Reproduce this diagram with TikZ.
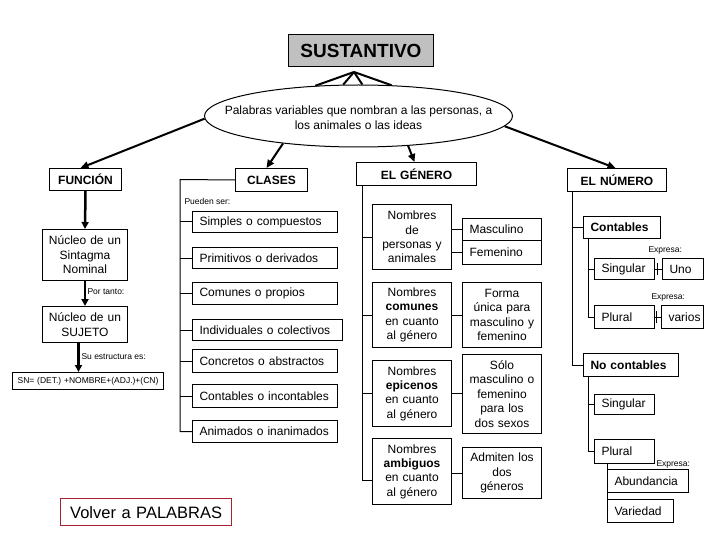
\documentclass[tikz,border=0pt]{standalone}
\usepackage{fontspec}
\setmainfont{Liberation Sans}
\usetikzlibrary{arrows.meta,shapes.geometric,calc}
\definecolor{sgray}{RGB}{192,192,192}
\definecolor{vred}{RGB}{165,35,45}
\begin{document}
\begin{tikzpicture}[x=1pt,y=-1pt,line width=1pt,
  bx/.style={draw,line width=1pt,anchor=north west,inner sep=0pt,font=\fontsize{12}{14.4}\selectfont},
  lb/.style={bx,align=left,inner xsep=7pt},
  cb/.style={bx,align=center},
  hd/.style={bx,align=center,font=\bfseries\fontsize{12}{14}\selectfont},
  small/.style={font=\fontsize{8.5}{10}\selectfont,inner sep=0pt,anchor=west},
  arr/.style={line width=2pt,-{Triangle[length=8pt,width=7pt]}},
  arrb/.style={line width=2.5pt,-{Triangle[length=7pt,width=7pt]}},
  fan/.style={line width=2pt}]
\useasboundingbox (0,0) rectangle (720,540);

% top
\node[hd,fill=sgray,text width=145pt,minimum height=32pt,font=\bfseries\fontsize{19}{22}\selectfont] (sus) at (288,34) {SUSTANTIVO};
\node[ellipse,draw,line width=1pt,minimum width=308pt,minimum height=62pt,inner sep=0pt] (ell) at (358.5,116) {};
\node[align=center,font=\fontsize{12}{15}\selectfont,inner sep=0pt] (elltxt) at (358.5,117.5) {Palabras variables que nombran a las personas, a\\los animales o las ideas};
\coordinate (apex) at (354,72);
\draw[fan] (apex) -- (ell.145.7);
\draw[fan] (apex) -- (ell.116.8);
\draw[fan] (apex) -- (ell.83.6);
\draw[fan] (apex) -- (ell.43.9);

% headers
\node[hd,text width=72pt,minimum height=22pt] (func) at (49,168) {FUNCIÓN};
\node[hd,text width=72pt,minimum height=23pt] (clases) at (235,168) {CLASES};
\node[hd,text width=120pt,minimum height=23pt] (gen) at (356,162) {EL GÉNERO};
\node[hd,text width=99pt,minimum height=23pt] (num) at (567,168) {EL NÚMERO};

\draw[arr] (ell.181.5) -- ([xshift=-5pt]func.north);
\draw[arr] (ell.200.7) -- ([xshift=-5pt]clases.north);
\draw[arr] (ell.329.3) -- ([xshift=-2pt]gen.north);
\draw[arr] (ell.356.8) -- ([xshift=-1.5pt]num.north);

% FUNCION
\node[cb,text width=85pt,minimum height=51pt] (nuc1) at (42,229) {Núcleo de un\\Sintagma\\Nominal};
\node[cb,text width=85pt,minimum height=36pt] (nuc2) at (42,306) {Núcleo de un\\SUJETO};
\node[cb,text width=151pt,minimum height=17pt,font=\fontsize{8.5}{10}\selectfont] (sn) at (12,372) {SN= (DET.) +NOMBRE+(ADJ.)+(CN)};
\draw[arrb] (func.south) -- (nuc1.north);
\draw[arrb] (nuc1.south) -- (nuc2.north);
\draw[arrb] ([xshift=-6.5pt]nuc2.south) -- ([xshift=-6.5pt]nuc2.south |- sn.north);
\node[small] (portanto) at (87,292) {Por tanto:};
\node[small] (suest) at (81,357) {Su estructura es:};

% CLASES
\node[small] (pueden) at (184,201) {Pueden ser:};
\node[lb,text width=131pt,minimum height=21pt] (simp) at (192,211) {Simples o compuestos};
\node[lb,text width=131pt,minimum height=21pt] (prim) at (192,247) {Primitivos o derivados};
\node[lb,text width=131pt,minimum height=22pt] (comu) at (192,282) {Comunes o propios};
\node[lb,text width=136pt,minimum height=21pt] (indi) at (192,319) {Individuales o colectivos};
\node[lb,text width=131pt,minimum height=23pt] (conc) at (192,349) {Concretos o abstractos};
\node[lb,text width=131pt,minimum height=23pt] (cont) at (192,384) {Contables o incontables};
\node[lb,text width=131pt,minimum height=22pt] (anim) at (192,420) {Animados o inanimados};
\coordinate (cv) at (180,179.5);
\draw (clases.west) -- (cv) |- (anim.west);
\foreach \n in {simp,prim,comu,indi,conc,cont} \draw (\n.west) -- (\n.west -| cv);

% GENERO
\node[cb,text width=79pt,minimum height=65pt] (pers) at (372,204) {Nombres\\de\\personas y\\animales};
\node[lb,text width=65pt,minimum height=22pt] (masc) at (462,218) {Masculino};
\node[lb,text width=65pt,minimum height=24pt] (fem) at (462,240) {Femenino};
\node[cb,text width=79pt,minimum height=65pt] (com) at (372,282) {Nombres\\\textbf{comunes}\\en cuanto\\al género};
\node[cb,text width=79pt,minimum height=65pt] (forma) at (462,282) {Forma\\única para\\masculino y\\femenino};
\node[cb,text width=79pt,minimum height=66pt] (epi) at (372,360) {Nombres\\\textbf{epicenos}\\en cuanto\\al género};
\node[cb,text width=79pt,minimum height=79pt] (solo) at (462,354) {Sólo\\masculino o\\femenino\\para los\\dos sexos};
\node[cb,text width=79pt,minimum height=66pt] (amb) at (372,438) {Nombres\\\textbf{ambiguos}\\en cuanto\\al género};
\node[cb,text width=79pt,minimum height=51pt] (adm) at (462,447) {Admiten los\\dos\\géneros};
\coordinate (gv) at ([xshift=6pt]gen.south west);
\coordinate (gend) at (362,480);
\draw (gv) -- (gend) -- (gend -| amb.west);
\foreach \n in {pers,com,epi} \draw (\n.west) -- (\n.west -| gv);
\draw (pers.east |- masc.west) -- (masc.west);
\draw (pers.east |- fem.west) -- (fem.west);
\draw (com.east) -- (forma.west);
\draw (epi.east) -- (epi.east -| solo.west);
\draw (adm.west -| amb.east) -- (adm.west);

% NUMERO
\node[lb,text width=63pt,minimum height=22pt,inner xsep=7pt,font=\bfseries\fontsize{12}{14}\selectfont] (cont2) at (583,216) {Contables};
\node[lb,text width=46pt,minimum height=21pt] (sing1) at (594,258) {Singular};
\node[lb,text width=27pt,minimum height=21pt] (uno) at (662,258) {Uno};
\node[lb,text width=46pt,minimum height=23pt] (plu1) at (594,305) {Plural};
\node[lb,text width=28pt,minimum height=23pt] (var1) at (661,305) {varios};
\node[small] (expr1) at (648,250) {Expresa:};
\node[small] (expr2) at (651,297) {Expresa:};
\node[lb,text width=81pt,minimum height=23pt,font=\bfseries\fontsize{12}{14}\selectfont] (nocont) at (583,353) {No contables};
\node[lb,text width=46pt,minimum height=20pt] (sing2) at (594,394) {Singular};
\node[lb,text width=46pt,minimum height=24pt] (plu2) at (594,439) {Plural};
\node[lb,text width=67pt,minimum height=23pt] (abund) at (607,469) {Abundancia};
\node[lb,text width=52pt,minimum height=23pt] (vari) at (607,499) {Variedad};
\node[small] (expr3) at (656,464) {Expresa:};

\coordinate (nv) at ([xshift=5pt]num.south west);
\draw (nv) |- (nocont.west);
\draw (cont2.west) -- (cont2.west -| nv);
\coordinate (cv2) at ([xshift=5pt]cont2.south west);
\draw (cv2) |- (plu1.west);
\draw (sing1.west) -- (sing1.west -| cv2);
\draw (sing1.east) -- (uno.west);
\draw ([xshift=-5pt,yshift=-6pt]uno.west) -- ([xshift=-5pt,yshift=6pt]uno.west);
\draw (plu1.east) -- (var1.west);
\draw ([xshift=-5pt,yshift=-6pt]var1.west) -- ([xshift=-5pt,yshift=6pt]var1.west);
\coordinate (cv3) at ([xshift=5pt]nocont.south west);
\draw (cv3) |- (plu2.west);
\draw (sing2.west) -- (sing2.west -| cv3);
\draw (plu2.south -| abund.west) -- (vari.north west);

% Volver
\node[bx,draw=vred,line width=1.3pt,text width=171pt,align=center,minimum height=27pt,font=\fontsize{16.5}{18}\selectfont] (volver) at (60,498) {Volver a PALABRAS};
\end{tikzpicture}
\end{document}
